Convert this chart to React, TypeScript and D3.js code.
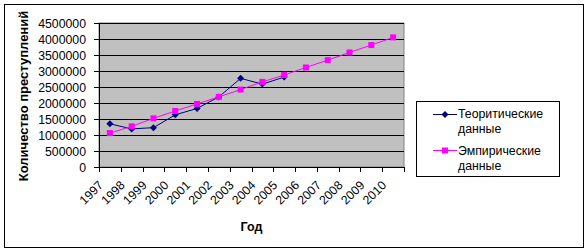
import React from "react";
import * as d3 from "d3";

const years = ["1997","1998","1999","2000","2001","2002","2003","2004","2005","2006","2007","2008","2009","2010"];
const theoretical = [1350000, 1190000, 1230000, 1630000, 1830000, 2190000, 2770000, 2590000, 2810000];
const empirical = [1060000, 1270000, 1520000, 1750000, 1970000, 2190000, 2420000, 2660000, 2875000, 3110000, 3340000, 3580000, 3810000, 4050000];
const yTicks = [0, 500000, 1000000, 1500000, 2000000, 2500000, 3000000, 3500000, 4000000, 4500000];
const seriesNames = ["Теоритические", "данные", "Эмпирические", "данные"];

const FONT = "'Liberation Sans', Arial, sans-serif";

export default function App() {
  const W = 588, H = 252;
  const px0 = 99, px1 = 404, py0 = 23, py1 = 167;
  const x = d3.scaleBand<string>().domain(years).range([px0, px1]).padding(0);
  const y = d3.scaleLinear().domain([0, 4500000]).range([py1, py0]);
  const cx = (i: number) => (x(years[i]) as number) + x.bandwidth() / 2;
  const line = d3.line<number>().x((_, i) => cx(i)).y((d) => y(d));
  const bounds = [...years.map((yr) => x(yr) as number), px1];

  const diamond = (x0: number, y0: number, key: string) => (
    <path key={key} d={`M${x0},${y0 - 3.5}L${x0 + 3.5},${y0}L${x0},${y0 + 3.5}L${x0 - 3.5},${y0}Z`} fill="#000080" />
  );
  const square = (x0: number, y0: number, key: string) => (
    <rect key={key} x={x0 - 3} y={y0 - 3} width={6} height={6} fill="#FF00FF" />
  );

  return (
    <svg width={W} height={H} style={{ position: "absolute", left: 0, top: 0 }} fontFamily={FONT}>
      <rect x={0} y={0} width={W} height={H} fill="#fff" />
      <rect x={4.5} y={4.5} width={579} height={243} fill="#fff" stroke="#000" strokeWidth={1} />
      {/* plot area */}
      <rect x={px0} y={py0} width={px1 - px0} height={py1 - py0} fill="#C0C0C0" stroke="#808080" strokeWidth={1} />
      {yTicks.slice(1).map((t) => (
        <line key={t} x1={px0} x2={px1} y1={Math.round(y(t)) + 0.5} y2={Math.round(y(t)) + 0.5} stroke="#000" />
      ))}
      {/* axes */}
      <line x1={px0 + 0.5} x2={px0 + 0.5} y1={py0} y2={py1} stroke="#000" />
      <line x1={px0} x2={px1 + 1} y1={py1 + 0.5} y2={py1 + 0.5} stroke="#000" />
      {yTicks.map((t) => (
        <g key={"yt" + t}>
          <line x1={px0 - 5} x2={px0} y1={Math.round(y(t)) + 0.5} y2={Math.round(y(t)) + 0.5} stroke="#000" />
          <text x={86} y={y(t) + 4.5} fontSize={12.3} textAnchor="end" fill="#000">{t}</text>
        </g>
      ))}
      {bounds.map((b, i) => (
        <line key={"xt" + i} x1={Math.round(b) + 0.5} x2={Math.round(b) + 0.5} y1={py1} y2={py1 + 5} stroke="#000" />
      ))}
      {years.map((yr, i) => (
        <text key={yr} transform={`translate(${cx(i) - 6},${186}) rotate(-45)`} fontSize={12.3} textAnchor="end" fill="#000">{yr}</text>
      ))}
      {/* series */}
      <path d={line(theoretical) as string} fill="none" stroke="#000080" strokeWidth={1} />
      <path d={line(empirical) as string} fill="none" stroke="#FF00FF" strokeWidth={1} />
      {theoretical.map((v, i) => diamond(cx(i), y(v), "d" + i))}
      {empirical.map((v, i) => square(cx(i), y(v), "s" + i))}
      {/* axis titles */}
      <text transform={`translate(27.5,96) rotate(-90)`} fontSize={13} fontWeight="bold" textAnchor="middle" fill="#000">Количество преступлений</text>
      <text x={(px0 + px1) / 2} y={231} fontSize={12.5} fontWeight="bold" textAnchor="middle" fill="#000">Год</text>
      {/* legend */}
      <rect x={416.5} y={101.5} width={143} height={75} fill="#fff" stroke="#000" />
      <line x1={433} x2={457} y1={114.5} y2={114.5} stroke="#000080" />
      {diamond(445, 114.5, "ld")}
      <text x={458} y={118} fontSize={12.3} fill="#000">{seriesNames[0]}</text>
      <text x={458} y={133} fontSize={12.3} fill="#000">{seriesNames[1]}</text>
      <line x1={433} x2={457} y1={150.5} y2={150.5} stroke="#FF00FF" />
      {square(445, 150.5, "ls")}
      <text x={458} y={155} fontSize={12.3} fill="#000">{seriesNames[2]}</text>
      <text x={458} y={170} fontSize={12.3} fill="#000">{seriesNames[3]}</text>
    </svg>
  );
}
